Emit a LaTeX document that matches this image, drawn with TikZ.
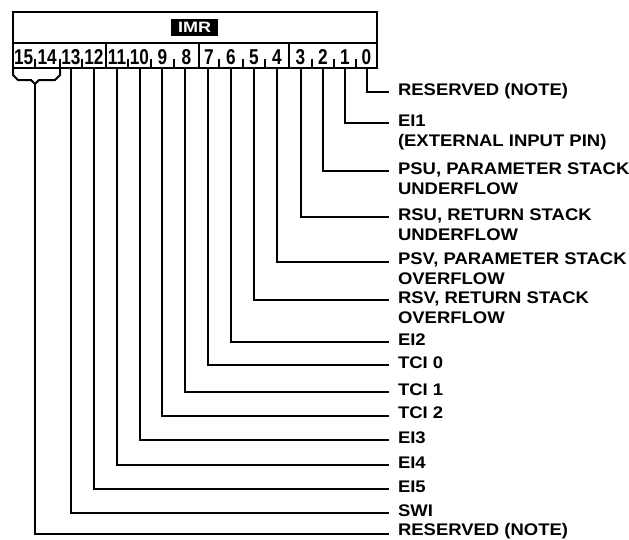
\documentclass[tikz,border=0pt]{standalone}
\usepackage{fontspec}
\newfontfamily\lblfont{Liberation Sans Bold}[FakeStretch=1.1]
\newfontfamily\digfont{Liberation Sans Bold}[FakeStretch=0.8]
\newfontfamily\imrfont{Liberation Sans Bold}[FakeStretch=1.2]
\begin{document}
\begin{tikzpicture}[x=1pt,y=-1pt,line width=2pt,
  lbl/.style={anchor=base west,inner sep=0pt,align=left,font=\lblfont\fontsize{16.8}{20}\selectfont},
  dig/.style={anchor=base,inner sep=0pt,font=\digfont\fontsize{21.5}{21.5}\selectfont},
  wire/.style={line width=2pt},
  imrbox/.style={fill=black,text=white,inner sep=0pt,minimum width=47pt,minimum height=17pt,font=\imrfont\fontsize{15}{15}\selectfont}]
\useasboundingbox (0,0) rectangle (629,539);
% register box
\draw (13,12) rectangle (377,68);
\draw (13,43) -- (377,43);
\foreach \x in {106,199,289} \draw (\x,43) -- (\x,68);
\foreach \x in {34.5,60,82,128,151,174,219,243,265,312,334,356} \draw (\x,59) -- (\x,68);
\node[imrbox] (imr) at (194.5,27.5) {IMR};
% bit numbers
\node[dig] (d15) at (23.75,64) {15};
\node[dig] (d14) at (47.25,64) {14};
\node[dig] (d13) at (71,64) {13};
\node[dig] (d12) at (94,64) {12};
\node[dig] (d11) at (117,64) {11};
\node[dig] (d10) at (139.5,64) {10};
\node[dig] (d9) at (162.5,64) {9};
\node[dig] (d8) at (186.5,64) {8};
\node[dig] (d7) at (209,64) {7};
\node[dig] (d6) at (231,64) {6};
\node[dig] (d5) at (254,64) {5};
\node[dig] (d4) at (277,64) {4};
\node[dig] (d3) at (300.5,64) {3};
\node[dig] (d2) at (323,64) {2};
\node[dig] (d1) at (345,64) {1};
\node[dig] (d0) at (366.5,64) {0};
% connector start points
\coordinate (c0) at (366.5,68);
\coordinate (c1) at (345,68);
\coordinate (c2) at (323,68);
\coordinate (c3) at (300.5,68);
\coordinate (c4) at (276.5,68);
\coordinate (c5) at (254,68);
\coordinate (c6) at (231,68);
\coordinate (c7) at (208,68);
\coordinate (c8) at (185,68);
\coordinate (c9) at (162,68);
\coordinate (c10) at (139.5,68);
\coordinate (c11) at (117,68);
\coordinate (c12) at (93.5,68);
\coordinate (c13) at (71,68);
\coordinate (c15) at (35,84);
% connector end points
\coordinate (e0) at (389,92);
\coordinate (e1) at (389,123);
\coordinate (e2) at (389,171);
\coordinate (e3) at (389,217);
\coordinate (e4) at (389,261.5);
\coordinate (e5) at (389,300);
\coordinate (e6) at (389,342);
\coordinate (e7) at (389,365);
\coordinate (e8) at (389,392);
\coordinate (e9) at (389,415.5);
\coordinate (e10) at (389,440);
\coordinate (e11) at (389,465);
\coordinate (e12) at (389,489);
\coordinate (e13) at (389,513);
\coordinate (e15) at (389,534);
% brace for bits 15/14
\draw[line join=miter] (13,68) -- (13,75) -- (18,80) -- (31,80) -- (c15) -- (39,80) -- (55,80) -- (60,75) -- (60,68);
% labels (base anchor of multi-line nodes lies on the last line)
\node[lbl] (l0) at ([xshift=8pt,yshift=-3pt]e0) {RESERVED (NOTE)};
\node[lbl] (l1) at ([xshift=8pt,yshift=-23pt]e1) {EI1\\(EXTERNAL INPUT PIN)};
\node[lbl] (l2) at ([xshift=8pt,yshift=-23pt]e2) {PSU, PARAMETER STACK\\UNDERFLOW};
\node[lbl] (l3) at ([xshift=8pt,yshift=-23pt]e3) {RSU, RETURN STACK\\UNDERFLOW};
\node[lbl] (l4) at ([xshift=8pt,yshift=-23pt]e4) {PSV, PARAMETER STACK\\OVERFLOW};
\node[lbl] (l5) at ([xshift=8pt,yshift=-23pt]e5) {RSV, RETURN STACK\\OVERFLOW};
\node[lbl] (l6) at ([xshift=8pt,yshift=-3pt]e6) {EI2};
\node[lbl] (l7) at ([xshift=8pt,yshift=-3pt]e7) {TCI 0};
\node[lbl] (l8) at ([xshift=8pt,yshift=-3pt]e8) {TCI 1};
\node[lbl] (l9) at ([xshift=8pt,yshift=-3pt]e9) {TCI 2};
\node[lbl] (l10) at ([xshift=8pt,yshift=-3pt]e10) {EI3};
\node[lbl] (l11) at ([xshift=8pt,yshift=-3pt]e11) {EI4};
\node[lbl] (l12) at ([xshift=8pt,yshift=-3pt]e12) {EI5};
\node[lbl] (l13) at ([xshift=8pt,yshift=-3pt]e13) {SWI};
\node[lbl] (l15) at ([xshift=8pt,yshift=-1.5pt]e15) {RESERVED (NOTE)};
% connectors
\foreach \k in {0,1,2,3,4,5,6,7,8,9,10,11,12,13,15}
  \draw[wire,line join=miter] (c\k) |- (e\k);
\end{tikzpicture}
\end{document}
